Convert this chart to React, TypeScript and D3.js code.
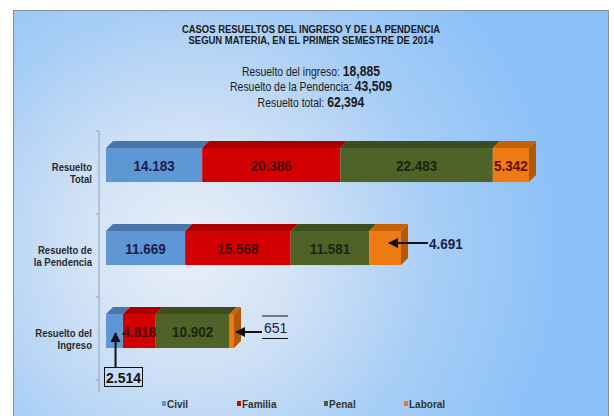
import React from "react";
import * as d3 from "d3";

const categories = ["Resuelto Total", "Resuelto de la Pendencia", "Resuelto del Ingreso"];
const categoryLines = [["Resuelto", "Total"], ["Resuelto de", "la Pendencia"], ["Resuelto del", "Ingreso"]];
const seriesNames = ["Civil", "Familia", "Penal", "Laboral"];
const civil = [14183, 11669, 2514];
const familia = [20386, 15568, 4818];
const penal = [22483, 11581, 10902];
const laboral = [5342, 4691, 651];
const valueLabels = [
  ["14.183", "20.386", "22.483", "5.342"],
  ["11.669", "15.568", "11.581", "4.691"],
  ["2.514", "4.818", "10.902", "651"],
];
const titleLines = [
  "CASOS RESUELTOS DEL INGRESO Y DE LA PENDENCIA",
  "SEGUN MATERIA, EN EL PRIMER SEMESTRE DE 2014",
];
const summaryLabels = ["Resuelto del ingreso:", "Resuelto de la Pendencia:", "Resuelto total:"];
const summaryValues = ["18,885", "43,509", "62,394"];

const W = 614, H = 416;
const front = ["#5f97d4", "#d20000", "#4f6228", "#ee7a12"];
const topC = ["#4876aa", "#a80000", "#3d4d1e", "#c46208"];
const sideC = ["#3f6898", "#8e0000", "#34421a", "#b35806"];
const labelC = ["#17204a", "#4a0808", "#1c2410", "#6a0c0c"];
const FONT = "'Liberation Sans', Arial, sans-serif";

function Narrow({ cx, s, children }: { cx: number; s: number; children: React.ReactNode }) {
  return <g transform={`translate(${cx},0) scale(${s},1) translate(${-cx},0)`}>{children}</g>;
}

export default function App() {
  const rows = categories.map((c, i) => ({
    cat: c,
    Civil: civil[i],
    Familia: familia[i],
    Penal: penal[i],
    Laboral: laboral[i],
  }));
  const stack = d3.stack<any>().keys(seriesNames)(rows);
  const total = d3.max(rows, (r) => r.Civil + r.Familia + r.Penal + r.Laboral) as number;
  const x = d3.scaleLinear().domain([0, total]).range([106, 529]);
  const y = d3.scaleBand().domain(categories).range([131, 380]);
  const bw = y.bandwidth();
  const barH = bw * 0.41;
  const barOff = bw * 0.205;
  const d = 7;

  const hidden = new Set(["1-3", "2-0", "2-3"]);

  return (
    <svg width={W} height={H} style={{ position: "absolute", left: 0, top: 0 }} fontFamily={FONT}>
      <defs>
        <radialGradient id="bg" gradientUnits="userSpaceOnUse" cx={190} cy={250} r={370}>
          <stop offset="0" stopColor="#e9f0f8" />
          <stop offset="0.3" stopColor="#d2e2f5" />
          <stop offset="0.65" stopColor="#a8cef6" />
          <stop offset="1" stopColor="#8cc1f8" />
        </radialGradient>
        <marker id="ah" viewBox="0 0 10 10" refX="9" refY="5" markerWidth="5" markerHeight="5" orient="auto">
          <path d="M0,0 L10,5 L0,10 z" fill="#111" />
        </marker>
      </defs>
      <rect x={0} y={0} width={W} height={H} fill="#fff" />
      <rect x={13.5} y={10.5} width={595} height={410} fill="url(#bg)" stroke="#8a8f98" strokeWidth={1} />

      <Narrow cx={311} s={0.86}>
        {titleLines.map((t, i) => (
          <text key={t} x={311} y={33 + i * 11} textAnchor="middle" fontSize={11} fontWeight="bold" fill="#1a1a1a">
            {t}
          </text>
        ))}
      </Narrow>
      <Narrow cx={311} s={0.87}>
        {summaryLabels.map((t, i) => (
          <text key={t} x={311} y={76 + i * 15.5} textAnchor="middle" fill="#1a1a1a">
            <tspan fontSize={12}>{t} </tspan>
            <tspan fontSize={14} fontWeight="bold">{summaryValues[i]}</tspan>
          </text>
        ))}
      </Narrow>

      {/* axis */}
      <line x1={99} x2={99} y1={131} y2={392} stroke="#8ea2bf" strokeWidth={1} />
      {[...categories.map((c) => y(c) as number), 380].map((t, i) => (
        <line key={i} x1={96} x2={99} y1={t} y2={t} stroke="#8ea2bf" strokeWidth={1} />
      ))}

      <Narrow cx={92} s={0.83}>
        {categories.map((c, i) => {
          const yc = (y(c) as number) + barOff + barH / 2;
          return (
            <text key={c} textAnchor="end" fontSize={11.5} fontWeight="bold" fill="#2a2a2a">
              {categoryLines[i].map((l, j) => (
                <tspan key={j} x={92} y={yc + 6 + j * 12}>{l}</tspan>
              ))}
            </text>
          );
        })}
      </Narrow>

      {categories.map((c, ci) => {
        const y0 = (y(c) as number) + barOff;
        return (
          <g key={c}>
            {stack.map((s, si) => {
              const x0 = x(s[ci][0]);
              const x1 = x(s[ci][1]);
              const last = si === stack.length - 1;
              return (
                <g key={si}>
                  <path d={`M${x0},${y0} L${x0 + d},${y0 - d} L${x1 + d},${y0 - d} L${x1},${y0} Z`} fill={topC[si]} />
                  <rect x={x0} y={y0} width={x1 - x0} height={barH} fill={front[si]} />
                  {last && (
                    <path d={`M${x1},${y0} L${x1 + d},${y0 - d} L${x1 + d},${y0 + barH - d} L${x1},${y0 + barH} Z`} fill={sideC[si]} />
                  )}
                </g>
              );
            })}
            {stack.map((s, si) => {
              if (hidden.has(`${ci}-${si}`)) return null;
              const x0 = x(s[ci][0]);
              const x1 = x(s[ci][1]);
              const mx = (x0 + x1) / 2;
              return (
                <Narrow key={"l" + si} cx={mx} s={0.9}>
                  <text x={mx} y={y0 + barH / 2 + 5.5} textAnchor="middle" fontSize={15} fontWeight="bold" fill={labelC[si]}>
                    {valueLabels[ci][si]}
                  </text>
                </Narrow>
              );
            })}
          </g>
        );
      })}

      {/* callouts */}
      {(() => {
        const yP = (y(categories[1]) as number) + barOff + barH / 2;
        const yI = (y(categories[2]) as number) + barOff + barH / 2;
        const endP = x(civil[1] + familia[1] + penal[1] + laboral[1]);
        const endI = x(civil[2] + familia[2] + penal[2] + laboral[2]);
        const cx = x(civil[2] / 2) + 1;
        return (
          <g>
            <line x1={428} y1={yP - 5} x2={endP - 12} y2={yP - 5} stroke="#111" strokeWidth={2} markerEnd="url(#ah)" />
            <Narrow cx={429} s={0.9}>
              <text x={429} y={yP + 0.5} fontSize={15} fontWeight="bold" fill="#17204a">{valueLabels[1][3]}</text>
            </Narrow>
            <line x1={262} y1={yI + 1} x2={endI + 2} y2={yI + 1} stroke="#111" strokeWidth={2} markerEnd="url(#ah)" />
            <line x1={262} x2={288} y1={316} y2={316} stroke="#111" strokeWidth={1} />
            <line x1={262} x2={288} y1={338.5} y2={338.5} stroke="#111" strokeWidth={1} />
            <text x={264} y={333} fontSize={14} fill="#17204a">{valueLabels[2][3]}</text>
            <line x1={cx} y1={367} x2={cx} y2={333} stroke="#111" strokeWidth={2} markerEnd="url(#ah)" />
            <rect x={104.5} y={367.5} width={38} height={19} fill="none" stroke="#111" strokeWidth={1} />
            <text x={123.5} y={383} textAnchor="middle" fontSize={14} fontWeight="bold" fill="#111">{valueLabels[2][0]}</text>
          </g>
        );
      })()}

      {/* legend */}
      {seriesNames.map((n, i) => {
        const lx = [162, 237, 324, 404][i];
        return (
          <g key={n}>
            <rect x={lx} y={401} width={4} height={5} fill={front[i]} />
            <text x={lx + 5} y={407.5} fontSize={10} fontWeight="bold" fill="#333">{n}</text>
          </g>
        );
      })}
    </svg>
  );
}
